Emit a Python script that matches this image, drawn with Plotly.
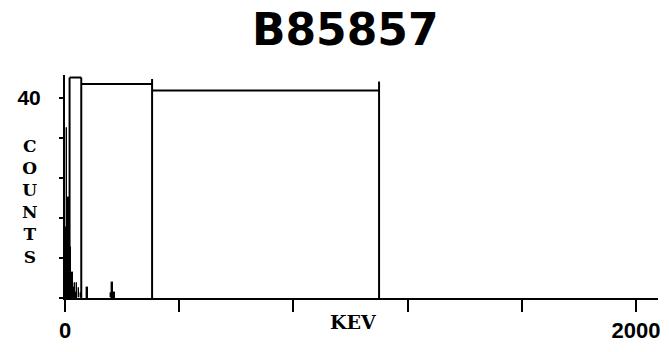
import plotly.graph_objects as go

# ---- data ----
chan_kev = [4, 7, 11, 14, 18, 21, 25, 28, 32, 35, 39, 42, 49, 56, 80, 161, 165, 168, 172]
chan_counts = [14, 34, 20, 12, 10, 7, 5, 3, 2, 3, 1, 3, 2, 1, 2, 1, 3, 3, 1]

roi_bounds = [16, 57, 305, 1100]          # keV region boundaries
roi_marker_top = [44.0, 44.0, 43.7, 43.2]  # height of boundary markers
roi_level = [44.0, 42.7, 41.4]            # top level of each region

x_tickvals = [0, 400, 800, 1200, 1600, 2000]
x_ticktext = ["0", "", "", "", "", "2000"]
y_tickvals = [0, 8, 16, 24, 32, 40]
y_ticktext = ["", "", "", "", "", "40"]

title_text = "B85857"
x_label = "KEV"
y_label = "COUNTS"

W, H = 669, 352
ML, MR, MT, MB = 65, 9, 75, 47

fig = go.Figure()

# spectrum
fig.add_trace(go.Bar(x=chan_kev, y=chan_counts, width=3.0,
                     marker=dict(color="black", line=dict(width=1.4, color="black")),
                     showlegend=False, hoverinfo="skip"))

# region boundary markers
for b, t in zip(roi_bounds, roi_marker_top):
    fig.add_trace(go.Scatter(x=[b, b], y=[0, t], mode="lines",
                             line=dict(color="black", width=2),
                             showlegend=False, hoverinfo="skip"))
# region tops
for i, lvl in enumerate(roi_level):
    fig.add_trace(go.Scatter(x=[roi_bounds[i], roi_bounds[i + 1]], y=[lvl, lvl],
                             mode="lines", line=dict(color="black", width=2),
                             showlegend=False, hoverinfo="skip"))

fig.update_layout(
    width=W, height=H,
    margin=dict(l=ML, r=MR, t=MT, b=MB, pad=0),
    paper_bgcolor="white", plot_bgcolor="white",
    bargap=0,
    title=dict(text=title_text, x=0.516, xanchor="center", y=0.915, yanchor="middle",
               font=dict(family="DejaVu Sans", size=44, color="black", weight="bold")),
    xaxis=dict(range=[0, 2077], showline=True, linecolor="black", linewidth=2,
               showgrid=False, zeroline=False,
               tickmode="array", tickvals=x_tickvals, ticktext=x_ticktext,
               ticks="outside", ticklen=12, tickwidth=2, tickcolor="black",
               tickfont=dict(family="Liberation Sans", size=22, color="black", weight="bold")),
    yaxis=dict(range=[0, 44.5], showline=True, linecolor="black", linewidth=2,
               showgrid=False, zeroline=False,
               tickmode="array", tickvals=y_tickvals, ticktext=y_ticktext,
               ticks="outside", ticklen=4, tickwidth=2, tickcolor="black",
               ticklabelstandoff=14,
               tickfont=dict(family="Liberation Sans", size=21, color="black", weight="bold")),
)

def px2paper(px, py):
    return (px - ML) / (W - ML - MR), (H - MB - py) / (H - MT - MB)

# x label
kx, ky = px2paper(354, 330)
fig.add_annotation(text=x_label, x=kx, y=ky, xref="paper", yref="paper",
                   showarrow=False, xanchor="center", yanchor="middle",
                   font=dict(family="DejaVu Serif", size=19, color="black", weight="bold"))

# y label, stacked letters
lx, ly = px2paper(30, 205)
fig.add_annotation(text="<br>".join(y_label), x=lx, y=ly, xref="paper", yref="paper",
                   showarrow=False, xanchor="center", yanchor="middle", align="center",
                   font=dict(family="DejaVu Serif", size=17, color="black", weight="bold"))

fig.write_html("out.html")
